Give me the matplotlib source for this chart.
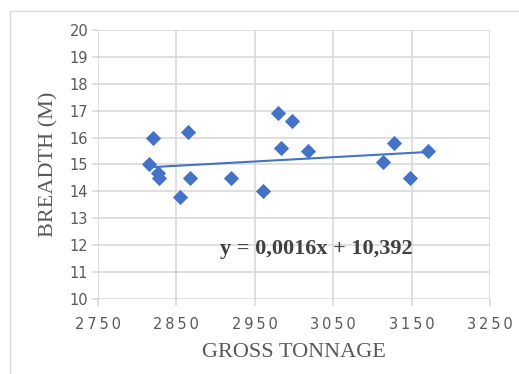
import matplotlib.pyplot as plt
from matplotlib.lines import Line2D

# gross tonnage vs breadth of the vessels
tonnage = [2815, 2820, 2827, 2828, 2865, 2867, 2855, 2920, 2961, 2979,
           2998, 2983, 3018, 3113, 3127, 3148, 3171]
breadth = [15.0, 16.0, 14.7, 14.5, 16.2, 14.5, 13.8, 14.5, 14.0, 16.9,
           16.6, 15.6, 15.5, 15.1, 15.8, 14.5, 15.5]

slope = 0.0016
intercept = 10.392

x_ticks = [2750, 2850, 2950, 3050, 3150, 3250]
y_ticks = list(range(10, 21))

blue = '#4472C4'
grid = '#d9d9d9'
text_gray = '#595959'

fig = plt.figure(figsize=(5.19, 3.74), dpi=100)
ax = fig.add_axes([98 / 519, 1 - 299 / 374, 392 / 519, 269 / 374])

# chart area border (left and top edges visible)
fig.add_artist(Line2D([10 / 519, 10 / 519], [0, 1 - 11 / 374],
                      transform=fig.transFigure, color=grid, lw=1))
fig.add_artist(Line2D([10 / 519, 1], [1 - 11 / 374, 1 - 11 / 374],
                      transform=fig.transFigure, color=grid, lw=1))

ax.set_xlim(2750, 3250)
ax.set_ylim(10, 20)
ax.set_xticks(x_ticks)
ax.set_yticks(y_ticks)
ax.set_xticklabels(['\u2009'.join(str(t)) for t in x_ticks])
ax.grid(True, color=grid, lw=1.2)
ax.set_axisbelow(True)
for s in ax.spines.values():
    s.set_visible(False)
ax.tick_params(colors=grid, labelcolor=text_gray, length=4, width=1.2,
               labelsize=10.5, pad=3)
ax.tick_params(axis='x', length=5, pad=8)

ax.scatter(tonnage, breadth, marker='D', s=60, color=blue, zorder=3,
           linewidths=0)

# linear trend across the data range
x0, x1 = min(tonnage), max(tonnage)
ax.plot([x0, x1], [slope * x0 + intercept, slope * x1 + intercept],
        color=blue, lw=1.5, zorder=2)

ax.text(2905, 11.85, 'y = 0,0016x + 10,392', family='Liberation Serif',
        fontweight='bold', fontsize=16, color='#404040', va='center')

ax.set_xlabel('GROSS TONNAGE', family='Liberation Serif', fontsize=16,
              color=text_gray, labelpad=8)
ax.set_ylabel('BREADTH (M)', family='Liberation Serif', fontsize=16,
              color=text_gray, labelpad=8)

fig.savefig('out.png', dpi=100)
